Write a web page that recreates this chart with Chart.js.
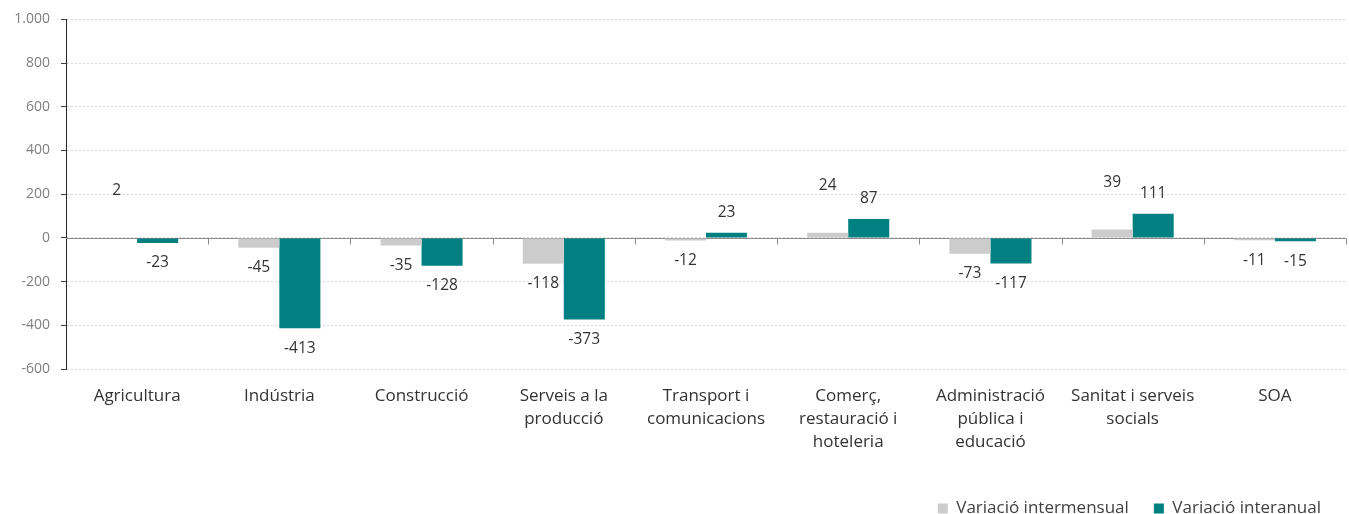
<!DOCTYPE html>
<html>
<head>
<meta charset="utf-8">
<script src="https://cdn.jsdelivr.net/npm/chart.js@4.4.1/dist/chart.umd.min.js"></script>
<style>
  html, body { margin: 0; padding: 0; background: #fff; }
  #wrap { width: 1349px; height: 514px; position: relative; }
</style>
</head>
<body>
<div id="wrap"><canvas id="chart"></canvas></div>
<script>
// chart data
const categories = [
  'Agricultura',
  'Indústria',
  'Construcció',
  ['Serveis a la', 'producció'],
  ['Transport i', 'comunicacions'],
  ['Comerç,', 'restauració i', 'hoteleria'],
  ['Administració', 'pública i', 'educació'],
  ['Sanitat i serveis', 'socials'],
  'SOA'
];
const intermensual = [2, -45, -35, -118, -12, 24, -73, 39, -11];
const interanual = [-23, -413, -128, -373, 23, 87, -117, 111, -15];
const yTicks = [-600, -400, -200, 0, 200, 400, 600, 800, 1000];

const FONT = '"Open Sans", sans-serif';
const fmt = v => String(v).replace(/\B(?=(\d{3})+(?!\d))/g, '.');

// zero line with small tick marks between categories, plus value labels
const extras = {
  id: 'extras',
  beforeDatasetsDraw(chart) {
    const { ctx, chartArea, scales } = chart;
    const y0 = Math.round(scales.y.getPixelForValue(0)) + 0.5;
    ctx.save();
    ctx.strokeStyle = '#8c8c8c';
    ctx.lineWidth = 1;
    ctx.beginPath();
    ctx.moveTo(chartArea.left, y0);
    ctx.lineTo(chartArea.right, y0);
    const step = (chartArea.right - chartArea.left) / categories.length;
    for (let i = 1; i <= categories.length; i++) {
      const x = Math.round(chartArea.left + step * i) + 0.5;
      ctx.moveTo(x, y0);
      ctx.lineTo(x, y0 + 6);
    }
    ctx.stroke();
    ctx.restore();
  },
  afterDatasetsDraw(chart) {
    const { ctx } = chart;
    ctx.save();
    ctx.font = '15.5px ' + FONT;
    ctx.fillStyle = '#333';
    ctx.textAlign = 'center';
    ctx.textBaseline = 'middle';
    chart.data.datasets.forEach((ds, di) => {
      chart.getDatasetMeta(di).data.forEach((bar, i) => {
        const v = ds.data[i];
        let off = 20;
        if (di === 0 && v >= 0) off = 47;
        const y = v >= 0 ? bar.y - off : bar.y + off;
        ctx.fillText(String(v), bar.x, y);
      });
    });
    ctx.restore();
  }
};

new Chart(document.getElementById('chart'), {
  type: 'bar',
  data: {
    labels: categories,
    datasets: [
      {
        label: 'Variació intermensual',
        data: intermensual,
        backgroundColor: '#cccccc',
        categoryPercentage: 0.577,
        barPercentage: 1
      },
      {
        label: 'Variació interanual',
        data: interanual,
        backgroundColor: '#008080',
        categoryPercentage: 0.577,
        barPercentage: 1
      }
    ]
  },
  options: {
    responsive: true,
    maintainAspectRatio: false,
    animation: false,
    layout: { padding: { top: 18, left: 0, right: 3, bottom: -13 } },
    plugins: {
      tooltip: { enabled: false },
      legend: {
        position: 'bottom',
        align: 'end',
        labels: {
          boxWidth: 10,
          boxHeight: 10,
          padding: 25,
          color: '#404040',
          font: { family: FONT, size: 17 }
        }
      }
    },
    scales: {
      x: {
        grid: { display: false },
        border: { display: false },
        ticks: {
          color: '#333',
          padding: 8,
          maxRotation: 0,
          autoSkip: false,
          font: { family: FONT, size: 17, lineHeight: 1.35 }
        },
        afterFit: s => { s.height = 106; }
      },
      y: {
        min: -600,
        max: 1000,
        afterBuildTicks: s => { s.ticks = yTicks.map(v => ({ value: v })); },
        grid: {
          color: '#d9d9d9',
          tickColor: '#404040',
          tickLength: 5
        },
        border: { color: '#262626', dash: [2, 2] },
        ticks: {
          color: '#7f7f7f',
          padding: 11,
          font: { family: FONT, size: 14 },
          callback: v => fmt(v)
        },
        afterFit: s => { s.width = 66; }
      }
    }
  },
  plugins: [extras]
});
</script>
</body>
</html>
